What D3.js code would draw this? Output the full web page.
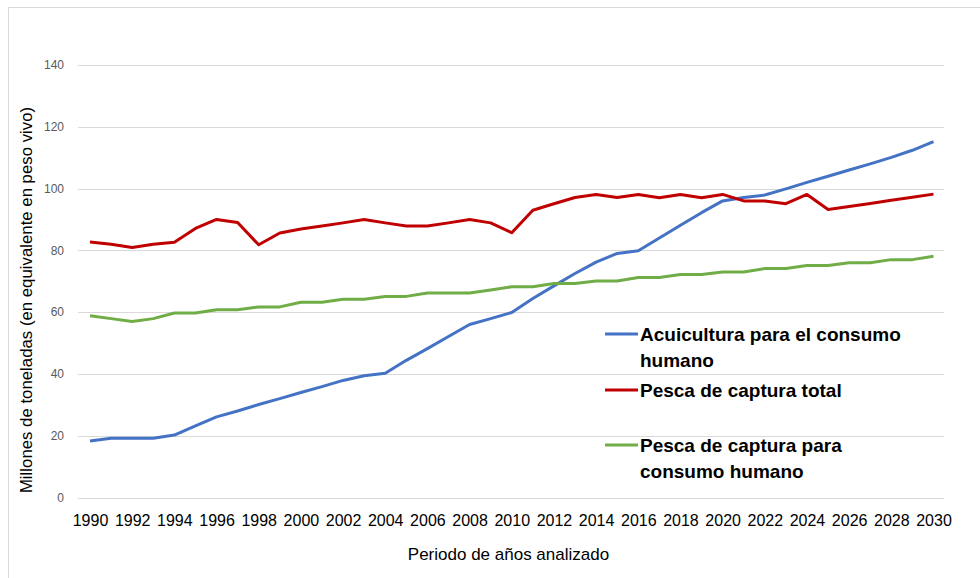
<!DOCTYPE html>
<html>
<head>
<meta charset="utf-8">
<script src="https://cdn.jsdelivr.net/npm/d3@7"></script>
<style>
  body { margin: 0; background: #fff; }
  svg { display: block; font-family: "Liberation Sans", Arial, sans-serif; }
</style>
</head>
<body>
<svg id="chart" width="980" height="578"></svg>
<script>
// ---------- data ----------
var years = d3.range(1990, 2031);
var tickYears = d3.range(1990, 2031, 2);
var yTicks = [0, 20, 40, 60, 80, 100, 120, 140];

var acuicultura = [18.3,19.2,19.2,19.2,20.2,23.2,26.1,28,30.1,32,34,35.9,37.9,39.4,40.2,44.4,48.2,52.1,56,57.9,59.9,
                   64.4,68.5,72.5,76.2,79,79.9,84,88.1,92.2,96,97.1,97.9,99.9,102,104,106,108,110.1,112.4,115.2];
var capturaTotal = [82.7,82,80.9,82,82.6,87.1,90,89,81.8,85.6,86.9,87.9,88.9,90,88.9,87.9,87.9,88.9,90,88.9,85.7,
                    93,95.1,97.1,98.1,97.1,98.1,97,98.1,97,98.1,96,96,95.1,98.1,93.2,94.2,95.2,96.2,97.2,98.2];
var capturaConsumo = [58.8,57.9,57,57.9,59.7,59.7,60.8,60.8,61.7,61.7,63.2,63.2,64.2,64.2,65.1,65.1,66.2,66.2,66.2,67.2,68.2,
                      68.2,69.3,69.3,70.1,70.1,71.2,71.2,72.2,72.2,73,73,74.1,74.1,75.1,75.1,76,76,77,77,78.1];

var seriesNames = [['Acuicultura para el consumo', 'humano'], ['Pesca de captura total'], ['Pesca de captura para', 'consumo humano']];
var seriesColors = ['#4472C4', '#C00000', '#70AD47'];

//----------SETUP----------
var svg = d3.select('#chart');

// outer chart border
svg.append('rect')
    .attr('x', 8.5).attr('y', 7.5)
    .attr('width', 1000).attr('height', 600)
    .attr('fill', '#fff')
    .attr('stroke', '#d9d9d9');

var x = d3.scaleLinear().domain([1990, 2030]).range([90, 933.5]);
var y = d3.scaleLinear().domain([0, 140]).range([497.5, 65]);
var gridLeft = 78, gridRight = 944;

// gridlines
svg.append('g')
    .selectAll('line')
    .data(yTicks)
    .enter().append('line')
    .attr('x1', gridLeft).attr('x2', gridRight)
    .attr('y1', function(d) {return Math.round(y(d)) + 0.5;})
    .attr('y2', function(d) {return Math.round(y(d)) + 0.5;})
    .attr('stroke', '#d9d9d9')
    .attr('stroke-width', 1);

// y axis labels
var yAxis = svg.append('g')
    .attr('transform', 'translate(' + (gridLeft - 14) + ',0)')
    .call(d3.axisLeft(y).tickValues(yTicks).tickSize(0).tickPadding(0));
yAxis.select('.domain').remove();
yAxis.selectAll('text')
    .attr('fill', '#595959')
    .style('font-size', '12px')
    .style('font-family', '"Liberation Sans", Arial, sans-serif');

// x axis labels
var xAxis = svg.append('g')
    .attr('transform', 'translate(0,' + 515 + ')')
    .call(d3.axisBottom(x).tickValues(tickYears).tickFormat(d3.format('d')).tickSize(0).tickPadding(0));
xAxis.select('.domain').remove();
xAxis.selectAll('text')
    .attr('fill', '#000')
    .style('font-size', '16px')
    .style('font-family', '"Liberation Sans", Arial, sans-serif');

// axis titles
svg.append('text')
    .attr('transform', 'translate(32,300) rotate(-90)')
    .attr('text-anchor', 'middle')
    .style('font-size', '16.8px')
    .attr('fill', '#000')
    .text('Millones de toneladas (en equivalente en peso vivo)');

svg.append('text')
    .attr('x', 508.5).attr('y', 560)
    .attr('text-anchor', 'middle')
    .style('font-size', '17px')
    .attr('fill', '#000')
    .text('Periodo de años analizado');

//----------LINES----------
var line = d3.line()
    .x(function(d, i) {return x(years[i]);})
    .y(function(d) {return y(d);});

[acuicultura, capturaTotal, capturaConsumo].forEach(function(s, i) {
    svg.append('path')
        .datum(s)
        .attr('d', line)
        .attr('fill', 'none')
        .attr('stroke', seriesColors[i])
        .attr('stroke-width', 3)
        .attr('stroke-linejoin', 'round');
});

//----------LEGEND----------
var legendY = [334, 390, 445];   // y of the sample line for each entry
var legend = svg.append('g').selectAll('g')
    .data(seriesNames)
    .enter().append('g')
    .attr('transform', function(d, i) {return 'translate(605,' + legendY[i] + ')';});

legend.append('line')
    .attr('x1', 0).attr('x2', 33)
    .attr('stroke', function(d, i) {return seriesColors[i];})
    .attr('stroke-width', 3);

legend.each(function(d) {
    var t = d3.select(this).append('text')
        .attr('x', 35).attr('y', 6.5)
        .style('font-size', '19px')
        .style('font-weight', 'bold')
        .attr('fill', '#000');
    d.forEach(function(str, k) {
        t.append('tspan').attr('x', 35).attr('dy', k === 0 ? 0 : 26.5).text(str);
    });
});
</script>
</body>
</html>
